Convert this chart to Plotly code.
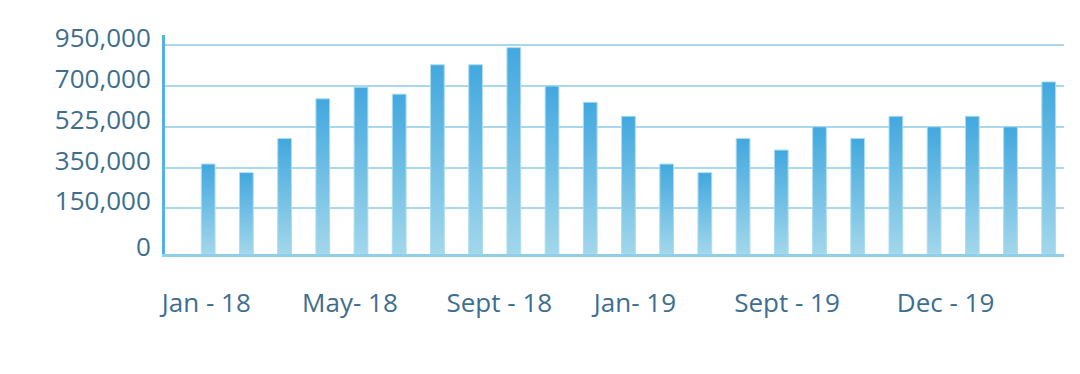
import numpy as np
import plotly.graph_objects as go

# ---- data ----
months = ["Jan-18", "Feb-18", "Mar-18", "Apr-18", "May-18", "Jun-18", "Jul-18", "Aug-18",
          "Sep-18", "Oct-18", "Nov-18", "Dec-18", "Jan-19", "Feb-19", "Mar-19", "Apr-19",
          "May-19", "Jun-19", "Jul-19", "Aug-19", "Sep-19", "Oct-19", "Nov-19"]
values = [365000, 325000, 475000, 645000, 695000, 665000, 830000, 830000,
          935000, 700000, 630000, 570000, 365000, 325000, 475000, 425000,
          525000, 475000, 570000, 525000, 570000, 525000, 725000]
y_tick_values = [0, 150000, 350000, 525000, 700000, 950000]
y_tick_text = ["0", "150,000", "350,000", "525,000", "700,000", "950,000"]
x_tick_text = ["Jan - 18", "May- 18", "Sept - 18", "Jan- 19", "Sept - 19", "Dec - 19"]

# ---- layout constants (display scale of the original chart) ----
y_tick_pos = [0, 1.12, 2.12, 3.12, 4.12, 5.12]
x_tick_pos = [-0.05, 3.71, 7.62, 11.17, 15.15, 19.3]
half_w = 0.18
TOP = "#42a8de"
BOTTOM = "#a2d7eb"
TXT = "#3e6e8e"
FONT = "Open Sans"

def disp(v):
    return float(np.interp(v, y_tick_values, y_tick_pos))

fig = go.Figure()
for i, (m, v) in enumerate(zip(months, values)):
    d = disp(v)
    fig.add_trace(go.Scatter(
        x=[i - half_w, i - half_w, i + half_w, i + half_w, i - half_w],
        y=[0, d, d, 0, 0],
        mode="lines", fill="toself",
        fillgradient=dict(type="vertical", colorscale=[[0, BOTTOM], [1, TOP]], start=0, stop=d),
        line=dict(color="#acdcf0", width=1),
        name=m, showlegend=False,
        hoveron="fills", text=f"{m}: {v:,}", hoverinfo="text",
    ))

fig.update_layout(
    width=1080, height=374,
    margin=dict(l=165, r=16, t=35, b=120),
    paper_bgcolor="white", plot_bgcolor="white",
    font=dict(family=FONT, color=TXT, size=25),
    xaxis=dict(range=[-1.13, 22.4], showgrid=False, zeroline=False,
               showline=True, linecolor="#8fcfea", linewidth=3,
               tickmode="array", tickvals=x_tick_pos, ticktext=x_tick_text,
               ticks="", ticklabelstandoff=24, tickfont=dict(size=26, color=TXT)),
    yaxis=dict(range=[0, 5.37], showgrid=True, gridcolor="#a9d8ec", gridwidth=2,
               zeroline=False, showline=True, linecolor="#55b1e2", linewidth=3,
               tickmode="array", tickvals=y_tick_pos, ticktext=y_tick_text,
               ticks="", ticklabelstandoff=6, ticklabelshift=-7,
               tickfont=dict(size=26, color=TXT)),
)

fig.write_html("out.html", config={"displayModeBar": False},
               post_script="document.body.style.margin='0';document.body.style.overflow='hidden';")
